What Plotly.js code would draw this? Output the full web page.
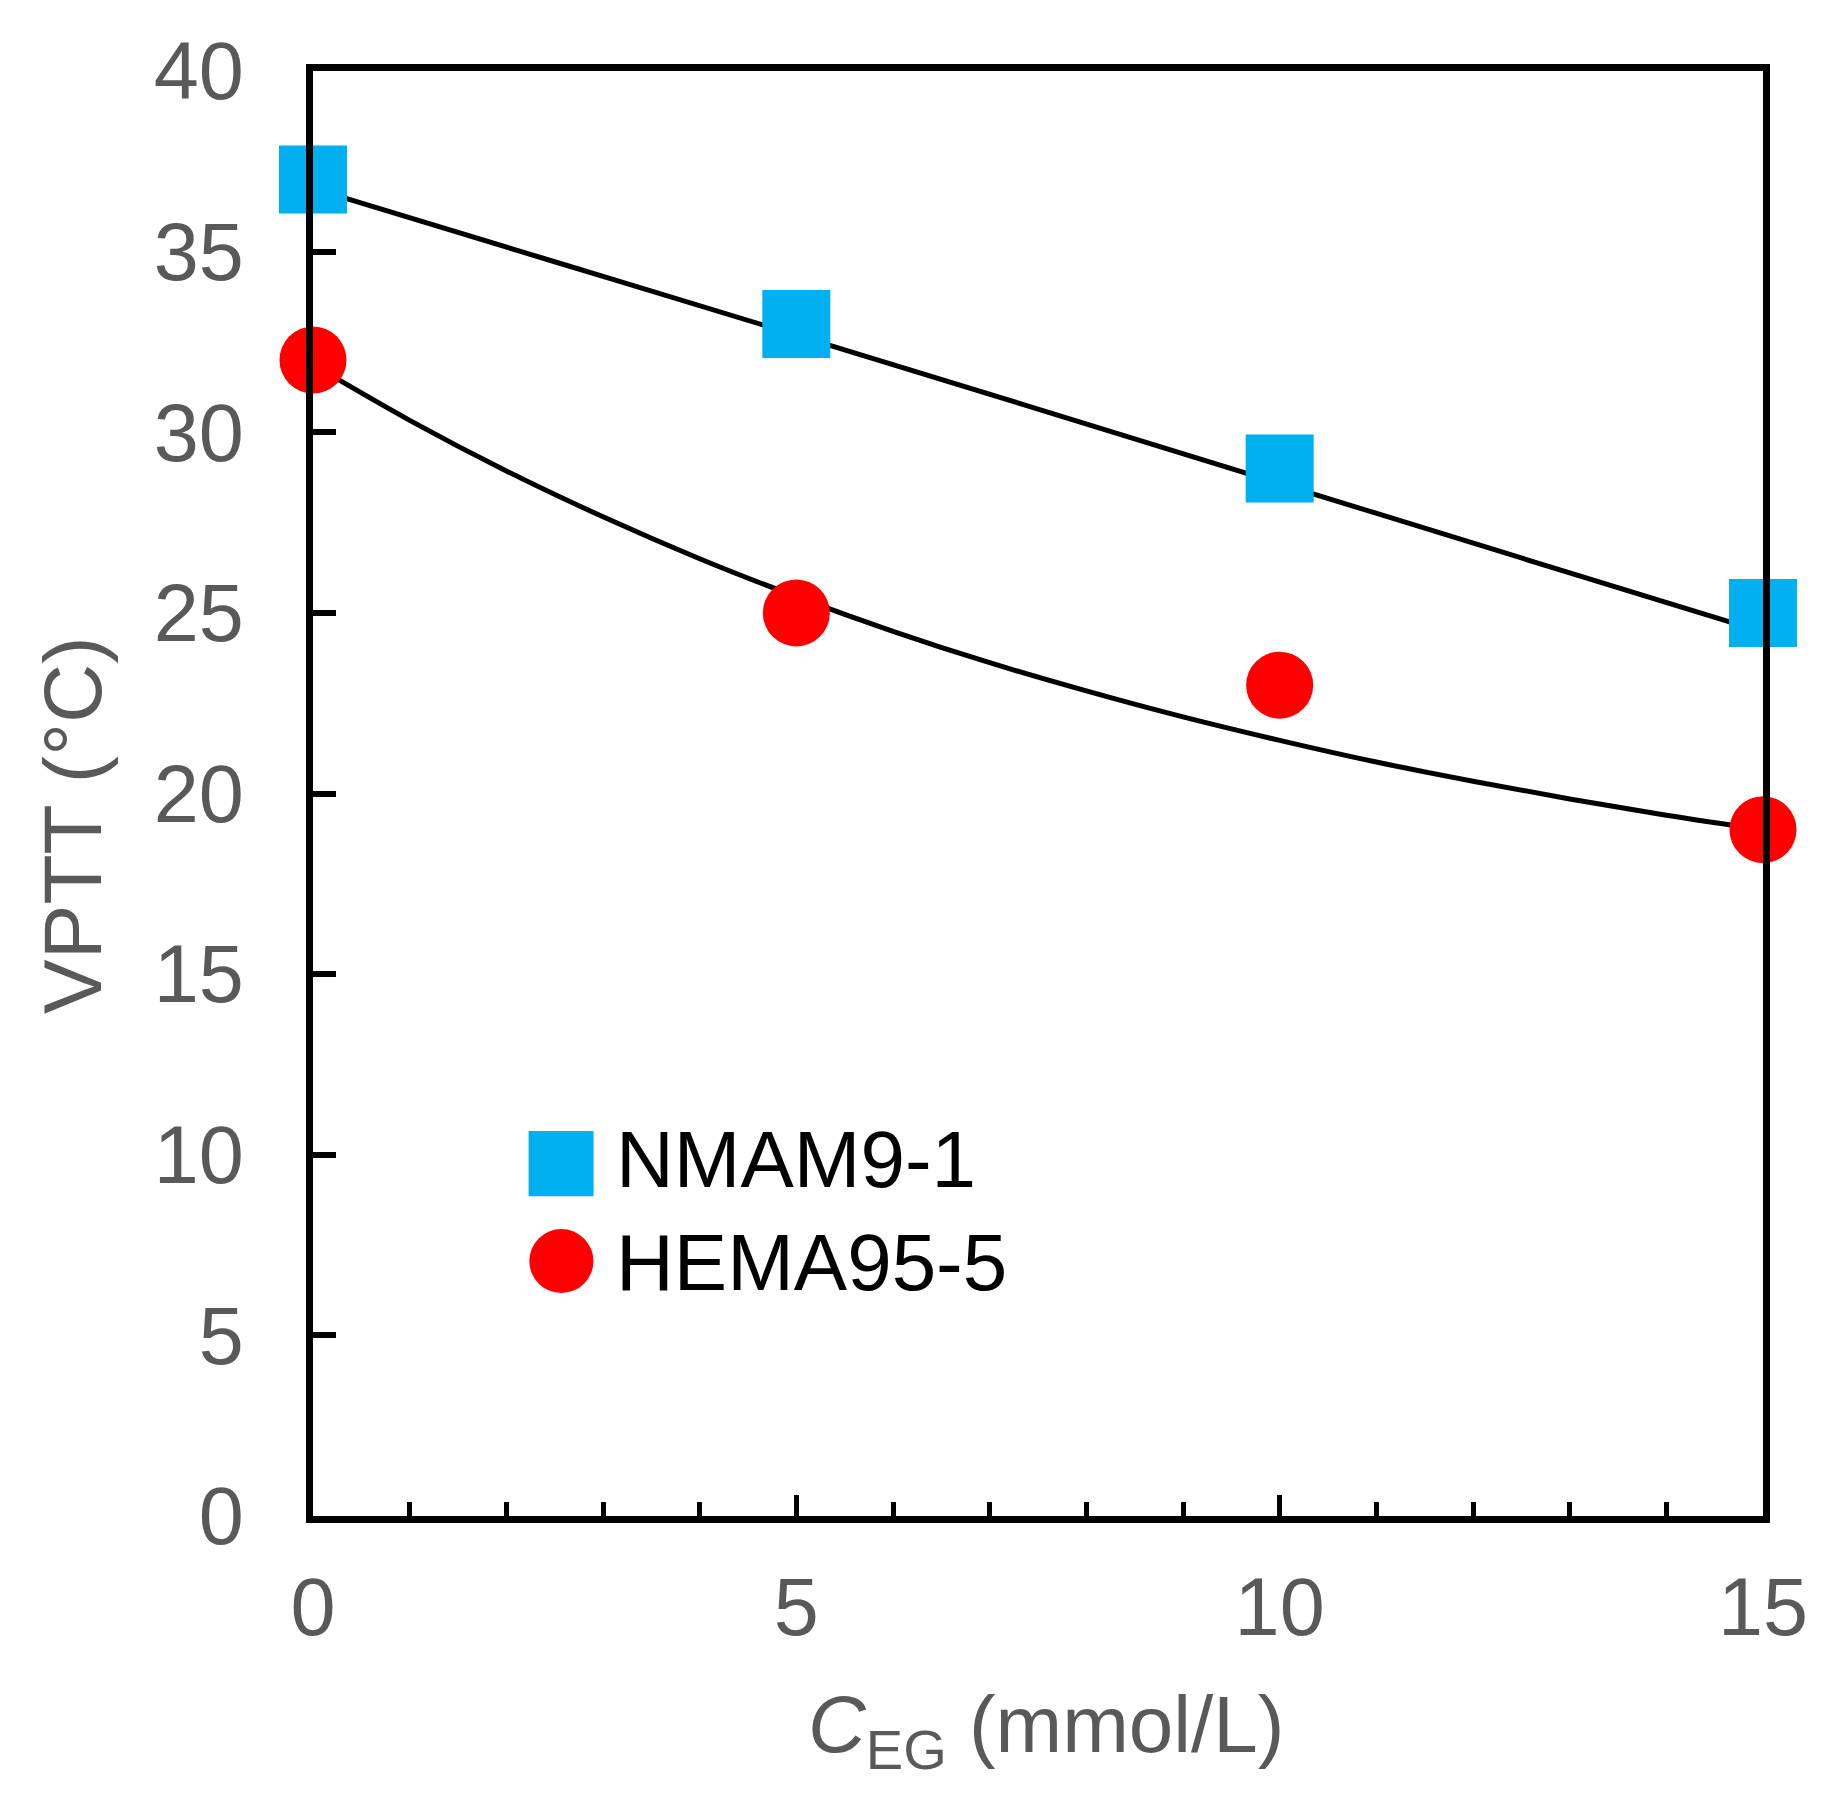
<!DOCTYPE html>
<html>
<head>
<meta charset="utf-8">
<script src="https://cdn.plot.ly/plotly-3.0.1.min.js"></script>
<style>
  html, body { margin: 0; padding: 0; background: #fff; }
  #chart { width: 1840px; height: 1795px; }
</style>
</head>
<body>
<div id="chart"></div>
<script>
// measured points
var cEG = [0, 5, 10, 15];
var vpttNMAM = [37, 33, 29, 25];
var vpttHEMA = [32, 25, 23, 19];

// fitted curves
var fitXNMAM = [0, 2.5, 5, 7.5, 10, 12.5, 15];
var fitYNMAM = [36.75, 34.72, 32.69, 30.64, 28.58, 26.52, 24.47];
var fitXHEMA = [0, 1, 2, 3, 4, 5, 6, 7, 8, 9, 10, 11, 12, 13, 14, 15];
var fitYHEMA = [31.87, 30.33, 28.93, 27.66, 26.50, 25.45, 24.49, 23.62,
                22.84, 22.12, 21.47, 20.87, 20.34, 19.85, 19.40, 19.00];

var names = ['NMAM9-1', 'HEMA95-5'];
var xTicks = [0, 5, 10, 15];
var yTicks = [0, 5, 10, 15, 20, 25, 30, 35, 40];

var FONT = 'Liberation Sans, Arial, sans-serif';
var GREY = '#595959';
var BLUE = '#00b0f0';
var RED = '#ff0000';

var fit0 = {
    x: fitXNMAM, y: fitYNMAM,
    mode: 'lines', type: 'scatter',
    line: {color: '#000', width: 5, shape: 'spline', smoothing: 1},
    showlegend: false, hoverinfo: 'skip'
};
var fit1 = {
    x: fitXHEMA, y: fitYHEMA,
    mode: 'lines', type: 'scatter',
    line: {color: '#000', width: 5, shape: 'spline', smoothing: 1},
    showlegend: false, hoverinfo: 'skip'
};
var pts0 = {
    x: cEG, y: vpttNMAM,
    mode: 'markers', type: 'scatter', name: names[0],
    marker: {symbol: 'square', size: 68, color: BLUE, line: {width: 0}},
    cliponaxis: false, showlegend: false
};
var pts1 = {
    x: cEG, y: vpttHEMA,
    mode: 'markers', type: 'scatter', name: names[1],
    marker: {symbol: 'circle', size: 67, color: RED, line: {width: 0}},
    cliponaxis: false, showlegend: false
};

var layout = {
    width: 1840, height: 1795,
    margin: {l: 313, r: 77, t: 71, b: 279},
    paper_bgcolor: '#fff', plot_bgcolor: '#fff',
    font: {family: FONT, color: GREY},
    showlegend: false,
    xaxis: {
        range: [0, 15],
        tickvals: xTicks,
        ticks: 'inside', ticklen: 21, tickwidth: 5, tickcolor: '#000',
        minor: {dtick: 1, ticks: 'inside', ticklen: 14, tickwidth: 5, tickcolor: '#000'},
        showline: true, linewidth: 7, linecolor: '#000', mirror: true,
        showgrid: false, zeroline: false,
        tickfont: {family: FONT, size: 81, color: GREY},
        ticklabelstandoff: 15
    },
    yaxis: {
        range: [0, 40],
        tickvals: yTicks,
        ticks: 'inside', ticklen: 23, tickwidth: 6, tickcolor: '#000',
        showline: true, linewidth: 7, linecolor: '#000', mirror: true,
        showgrid: false, zeroline: false,
        tickfont: {family: FONT, size: 81, color: GREY},
        ticklabelstandoff: 46
    },
    annotations: [
        {xref: 'paper', yref: 'paper', x: -0.1662, y: 0.4782, textangle: -90,
         xanchor: 'center', yanchor: 'middle', showarrow: false,
         text: 'VPTT (°C)', font: {family: FONT, size: 82, color: GREY}},
        {xref: 'paper', yref: 'paper', x: 0.5055, y: -0.1481,
         xanchor: 'center', yanchor: 'middle', showarrow: false,
         text: '<i>C</i><sub>EG</sub> (mmol/L)', font: {family: FONT, size: 80, color: GREY}},
        {xref: 'paper', yref: 'paper', x: 0.2079, y: 0.2464,
         xanchor: 'left', yanchor: 'middle', showarrow: false,
         text: names[0], font: {family: FONT, size: 80, color: '#000'}},
        {xref: 'paper', yref: 'paper', x: 0.2079, y: 0.1751,
         xanchor: 'left', yanchor: 'middle', showarrow: false,
         text: names[1], font: {family: FONT, size: 80, color: '#000'}}
    ],
    // legend glyphs
    shapes: [
        {type: 'rect', xref: 'paper', yref: 'paper',
         x0: 0.1487, x1: 0.1935, y0: 0.2212, y1: 0.2664,
         fillcolor: BLUE, line: {width: 0}},
        {type: 'circle', xref: 'paper', yref: 'paper',
         x0: 0.1492, x1: 0.1934, y0: 0.1543, y1: 0.1986,
         fillcolor: RED, line: {width: 0}}
    ]
};

Plotly.newPlot('chart', [fit0, fit1, pts0, pts1], layout, {displayModeBar: false, staticPlot: true});
</script>
</body>
</html>
